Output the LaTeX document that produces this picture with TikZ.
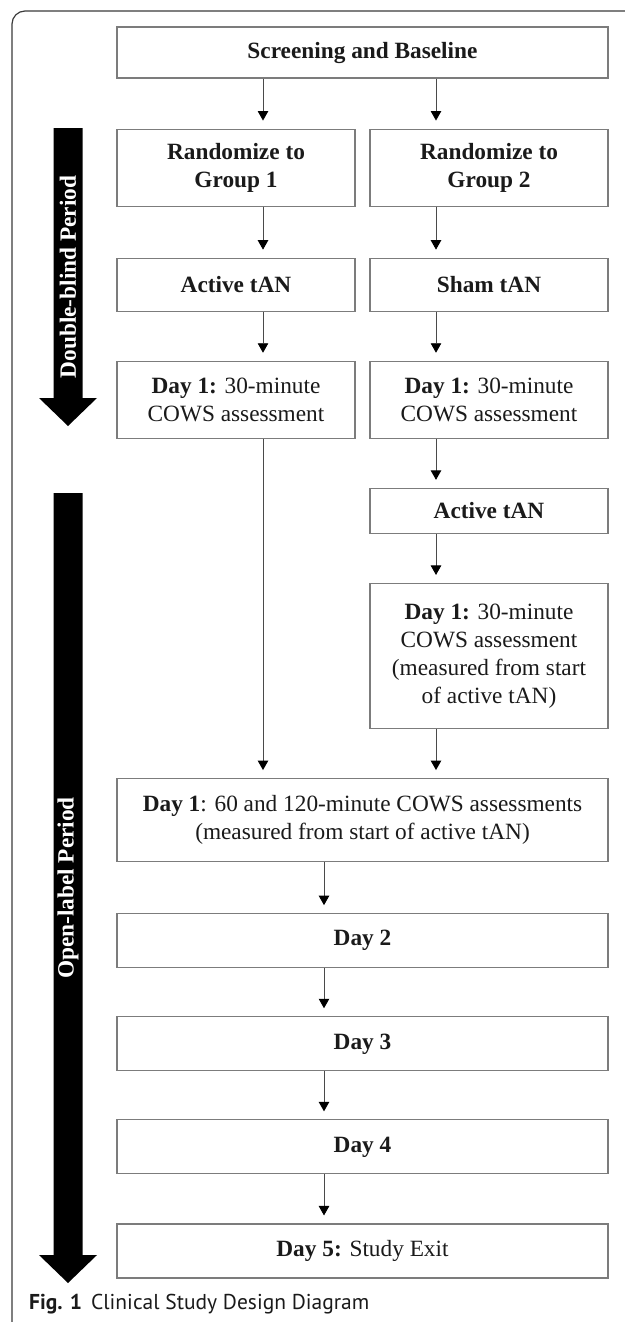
\documentclass[tikz,border=0pt]{standalone}
\usepackage{fontspec}
\setmainfont{Liberation Serif}
\newfontfamily\capfont{PT Sans}
\usetikzlibrary{arrows.meta,positioning}
\definecolor{ink}{HTML}{1A1A1A}
\definecolor{edge}{HTML}{7C7C7C}
\definecolor{wire}{HTML}{4A4A4A}
\definecolor{rim}{HTML}{3A3A3A}
\tikzset{
  box/.style={draw=edge,line width=1.1pt,fill=white,align=center,inner sep=2pt,text=ink,font=\fontsize{23.3}{28}\selectfont},
  colbox/.style={box,minimum width=238pt},
  widebox/.style={box,minimum width=491pt},
  ar/.style={-{Triangle[length=9.5pt,width=10.5pt,color=black]},draw=wire,line width=.9pt,shorten >=8pt},
  period/.style={text=white,font=\fontsize{23.3}{28}\selectfont\bfseries,rotate=90,inner sep=0pt},
  bar/.style={fill=black},
}

\begin{document}
\begin{tikzpicture}[x=1pt,y=1pt]
  \useasboundingbox (0,0) rectangle (624,-1322);
  \draw[draw=rim,line width=1.2pt,rounded corners=13pt] (12,-1322) -- (12,-11) -- (630,-11);

  \coordinate (cl) at (263,0);
  \coordinate (cr) at (436,0);
  \coordinate (cm) at (324,0);

  \node[widebox,minimum height=51pt] (scr) at (362.5,-52.5) {\textbf{Screening and Baseline}};
  \node[colbox,minimum height=77pt,below right=50pt and 0pt of scr.south west] (rand1) {\textbf{Randomize to}\\\textbf{Group 1}};
  \node[colbox,minimum height=77pt,below left=50pt and 0pt of scr.south east] (rand2) {\textbf{Randomize to}\\\textbf{Group 2}};
  \node[colbox,minimum height=53pt,below=51pt of rand1] (act1) {\textbf{Active tAN}};
  \node[colbox,minimum height=53pt,below=51pt of rand2] (sham) {\textbf{Sham tAN}};
  \node[colbox,minimum height=77pt,below=49pt of act1] (cows1) {\textbf{Day 1:} 30-minute\\COWS assessment};
  \node[colbox,minimum height=77pt,below=49pt of sham] (cows2) {\textbf{Day 1:} 30-minute\\COWS assessment};
  \node[colbox,minimum height=45pt,below=49pt of cows2] (act2) {\textbf{Active tAN}};
  \node[colbox,minimum height=145pt,below=49pt of act2] (cows3) {\textbf{Day 1:} 30-minute\\COWS assessment\\(measured from start\\of active tAN)};
  \node[widebox,minimum height=83pt,below left=49pt and 0pt of cows3.south east] (cows4) {\textbf{Day 1}: 60 and 120-minute COWS assessments\\(measured from start of active tAN)};
  \node[widebox,minimum height=54pt,below=51pt of cows4] (day2) {\textbf{Day 2}};
  \node[widebox,minimum height=54pt,below=48pt of day2] (day3) {\textbf{Day 3}};
  \node[widebox,minimum height=54pt,below=48pt of day3] (day4) {\textbf{Day 4}};
  \node[widebox,minimum height=54pt,below=49pt of day4] (day5) {\textbf{Day 5:} Study Exit};

  \draw[ar] (scr.south -| cl) -- (rand1.north -| cl);
  \draw[ar] (scr.south -| cr) -- (rand2.north -| cr);
  \draw[ar] (rand1.south -| cl) -- (act1.north -| cl);
  \draw[ar] (rand2.south -| cr) -- (sham.north -| cr);
  \draw[ar] (act1.south -| cl) -- (cows1.north -| cl);
  \draw[ar] (sham.south -| cr) -- (cows2.north -| cr);
  \draw[ar] (cows2.south -| cr) -- (act2.north -| cr);
  \draw[ar] (act2.south -| cr) -- (cows3.north -| cr);
  \draw[ar] (cows1.south -| cl) -- (cows4.north -| cl);
  \draw[ar] (cows3.south -| cr) -- (cows4.north -| cr);
  \draw[ar] (cows4.south -| cm) -- (day2.north -| cm);
  \draw[ar] (day2.south -| cm) -- (day3.north -| cm);
  \draw[ar] (day3.south -| cm) -- (day4.north -| cm);
  \draw[ar] (day4.south -| cm) -- (day5.north -| cm);

  \fill[bar] (53.5,-128) -- (82.5,-128) -- (82.5,-398) -- (97,-398) -- (68,-426) -- (39,-398) -- (53.5,-398) -- cycle;
  \node[period] (blind) at (68,-277) {Double-blind Period};
  \fill[bar] (53.5,-493) -- (82.5,-493) -- (82.5,-1255) -- (97,-1255) -- (68,-1283) -- (39,-1255) -- (53.5,-1255) -- cycle;
  \node[period] (open) at (68,-888) {Open-label Period};

  \node[anchor=base west,inner sep=0pt,text=ink,font=\capfont\fontsize{21.5}{25}\selectfont] (cap) at (29,-1309) {\textbf{Fig. 1}\hspace{9pt}Clinical Study Design Diagram};
\end{tikzpicture}
\end{document}
